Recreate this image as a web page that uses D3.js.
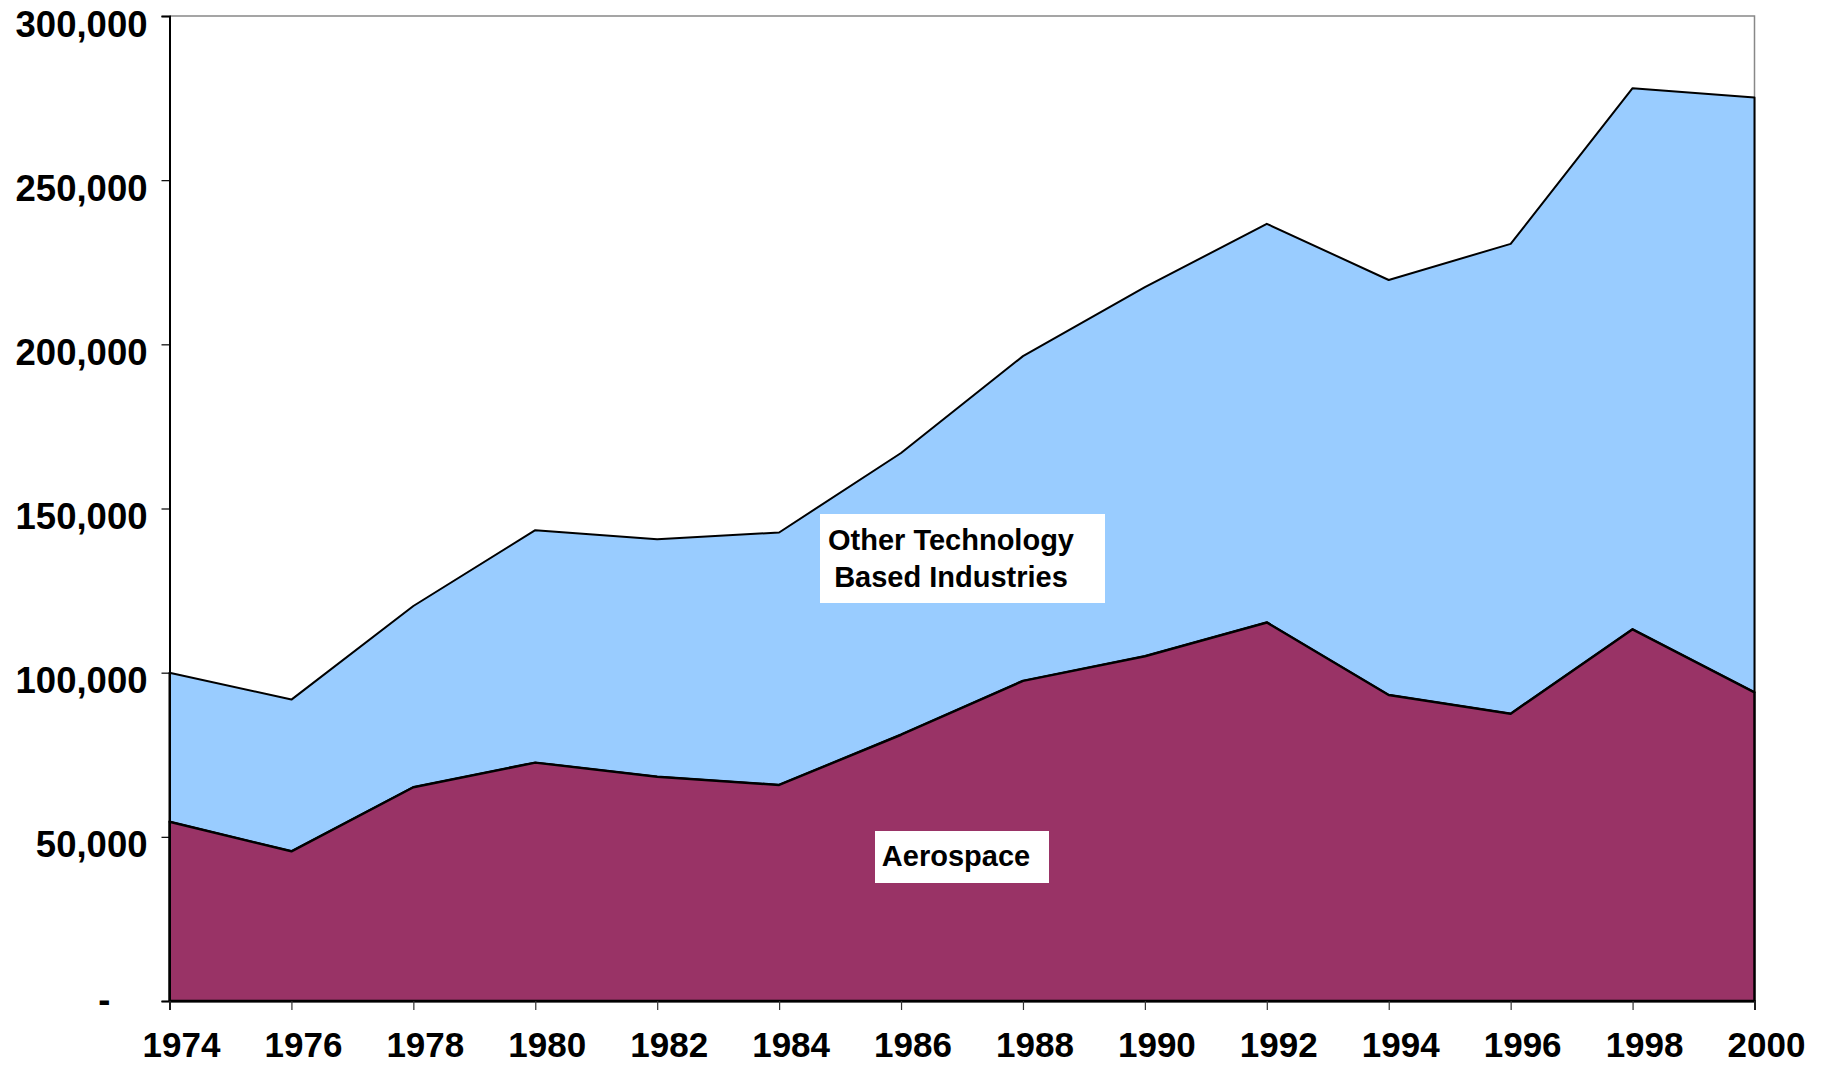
<!DOCTYPE html>
<html>
<head>
<meta charset="utf-8">
<script src="https://cdn.jsdelivr.net/npm/d3@7"></script>
<style>
  body { margin: 0; background: #fff; }
  text { font-family: Arial, "Liberation Sans", sans-serif; font-weight: bold; }
</style>
</head>
<body>
<div class="chart"></div>
<script>
// data
const years = [1974, 1976, 1978, 1980, 1982, 1984, 1986, 1988, 1990, 1992, 1994, 1996, 1998, 2000];
const aerospace = [54.6, 45.6, 65.1, 72.6, 68.3, 65.8, 81.1, 97.5, 105.0, 115.3, 93.2, 87.5, 113.2, 94.0].map(v => v * 1000);
const otherTech = [45.4, 46.2, 55.2, 70.8, 72.3, 76.9, 85.8, 98.9, 112.4, 121.4, 126.4, 143.1, 164.8, 181.2].map(v => v * 1000);
const yTicks = [0, 50000, 100000, 150000, 200000, 250000, 300000];

const width = 1829, height = 1065;
const m = {left: 169.5, top: 16, right: 74.5, bottom: 64};
const w = width - m.left - m.right, h = height - m.top - m.bottom;

const svg = d3.select(".chart").append("svg")
    .attr("width", width).attr("height", height);

const x = d3.scaleLinear().domain([1974, 2000]).range([m.left, m.left + w]);
const y = d3.scaleLinear().domain([0, 300000]).range([m.top + h, m.top]);

const rows = years.map((yr, i) => ({year: yr, aero: aerospace[i], other: otherTech[i]}));
const series = d3.stack().keys(["aero", "other"])(rows);
const colors = {aero: "#993366", other: "#99CCFF"};

// plot frame, grey top and right
svg.append("path")
    .attr("d", `M${m.left},${m.top}H${m.left + w}V${m.top + h}`)
    .attr("fill", "none").attr("stroke", "#888").attr("stroke-width", 1.5);

const area = d3.area()
    .x(d => x(d.data.year))
    .y0(d => y(d[0]))
    .y1(d => y(d[1]));

// draw upper series first so the lower outline sits on top
svg.append("g").selectAll("path")
    .data(series.slice().reverse())
    .join("path")
    .attr("d", area)
    .attr("fill", d => colors[d.key])
    .attr("stroke", "#000")
    .attr("stroke-width", d => d.key == "aero" ? 2.5 : 2)
    .attr("stroke-linejoin", "round");

// y axis
const yAxis = svg.append("g")
    .attr("transform", `translate(${m.left},0)`)
    .call(d3.axisLeft(y).tickValues(yTicks).tickSize(8).tickPadding(14)
        .tickFormat(d => d == 0 ? "-" : d3.format(",")(d)));
yAxis.select(".domain").attr("stroke", "#000").attr("stroke-width", 2);
yAxis.selectAll(".tick line").attr("stroke", "#000").attr("stroke-width", 1.2);
yAxis.selectAll(".tick text")
    .attr("fill", "#000")
    .style("font-size", "36.5px")
    .attr("dy", "0.55em");
yAxis.selectAll(".tick text").filter(d => d == 0)
    .attr("x", -59).attr("dy", "0.3em");

// x axis
const xAxis = svg.append("g")
    .attr("transform", `translate(0,${m.top + h})`)
    .call(d3.axisBottom(x).tickValues(years).tickSize(9).tickPadding(22).tickFormat(d3.format("d")));
xAxis.select(".domain").attr("stroke", "#000").attr("stroke-width", 2);
xAxis.selectAll(".tick line").attr("stroke", "#333").attr("stroke-width", 1.2);
xAxis.selectAll(".tick text")
    .attr("fill", "#000")
    .attr("x", 11.5)
    .style("font-size", "35px");

// series labels in white boxes
svg.append("rect").attr("x", 820).attr("y", 514).attr("width", 285).attr("height", 89).attr("fill", "#fff");
const lbl = svg.append("text")
    .attr("x", 951).attr("y", 550)
    .attr("text-anchor", "middle")
    .style("font-size", "29px");
lbl.append("tspan").attr("x", 951).attr("dy", 0).text("Other Technology");
lbl.append("tspan").attr("x", 951).attr("dy", 37).text("Based Industries");

svg.append("rect").attr("x", 875).attr("y", 831).attr("width", 174).attr("height", 52).attr("fill", "#fff");
svg.append("text")
    .attr("x", 956).attr("y", 866)
    .attr("text-anchor", "middle")
    .style("font-size", "29px")
    .text("Aerospace");
</script>
</body>
</html>
